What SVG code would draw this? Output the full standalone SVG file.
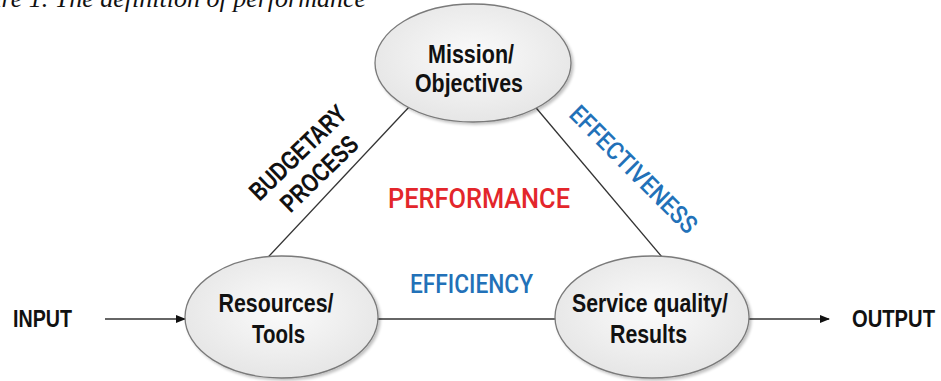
<svg xmlns="http://www.w3.org/2000/svg" width="941" height="381" viewBox="0 0 941 381">
<style>
.node ellipse{fill:url(#g);stroke:#7a7a7a;stroke-width:1.3}
.lbl{font-family:"Liberation Sans",Arial,sans-serif;font-weight:bold;font-size:26px;fill:#111;text-anchor:middle}
.io{font-family:"Liberation Sans",Arial,sans-serif;font-weight:bold;font-size:24px;fill:#111}
.conn line{stroke:#333;stroke-width:1.3}
.blue{font-family:Roboto,"Liberation Sans",sans-serif;font-size:25px;fill:#2271b8;font-weight:500;text-anchor:middle}
.red{font-family:Roboto,"Liberation Sans",sans-serif;font-size:28px;fill:#e3262b;font-weight:500;text-anchor:middle}
.cap{font-family:"Liberation Serif","Times New Roman",serif;font-style:italic;font-size:26px;fill:#111}
</style>
<defs>
<radialGradient id="g" cx="50%" cy="45%" r="60%">
<stop offset="0" stop-color="#fbfbfb"/>
<stop offset="1" stop-color="#e4e4e4"/>
</radialGradient>
<filter id="sh" x="-10%" y="-10%" width="125%" height="125%">
<feGaussianBlur in="SourceAlpha" stdDeviation="1.5"/>
<feOffset dx="1.5" dy="2" result="b"/>
<feComponentTransfer><feFuncA type="linear" slope="0.25"/></feComponentTransfer>
<feMerge><feMergeNode/><feMergeNode in="SourceGraphic"/></feMerge>
</filter>
<marker id="arr" markerWidth="10" markerHeight="8" refX="9" refY="4" orient="auto" markerUnits="userSpaceOnUse">
<path d="M0,0 L10,4 L0,8 Z" fill="#111"/>
</marker>
</defs>
<rect width="941" height="381" fill="#fff"/>
<text class="cap" x="366" y="7" text-anchor="end">Figure 1. The definition of performance</text>
<g id="connectors" class="conn">
<line x1="425" y1="90" x2="256" y2="270"/>
<line x1="521" y1="90" x2="673" y2="270"/>
<line x1="370" y1="319" x2="565" y2="319"/>
<line x1="105" y1="319" x2="185" y2="319" marker-end="url(#arr)"/>
<line x1="749" y1="319" x2="829" y2="319" marker-end="url(#arr)"/>
</g>
<g id="mission" class="node">
<ellipse cx="473" cy="63" rx="98" ry="59" filter="url(#sh)"/>
<text class="lbl" x="471" y="63" textLength="86" lengthAdjust="spacingAndGlyphs">Mission/</text>
<text class="lbl" x="469" y="92" textLength="108" lengthAdjust="spacingAndGlyphs">Objectives</text>
</g>
<g id="resources" class="node">
<ellipse cx="281.5" cy="317" rx="96.5" ry="61" filter="url(#sh)"/>
<text class="lbl" x="276" y="312" textLength="115" lengthAdjust="spacingAndGlyphs">Resources/</text>
<text class="lbl" x="278.5" y="343" textLength="53" lengthAdjust="spacingAndGlyphs">Tools</text>
</g>
<g id="service" class="node">
<ellipse cx="652" cy="317" rx="97" ry="61" filter="url(#sh)"/>
<text class="lbl" x="650" y="312" textLength="156" lengthAdjust="spacingAndGlyphs">Service quality/</text>
<text class="lbl" x="648.5" y="343" textLength="77" lengthAdjust="spacingAndGlyphs">Results</text>
</g>
<g id="input">
<text class="io" x="13" y="327" textLength="59" lengthAdjust="spacingAndGlyphs">INPUT</text>
</g>
<g id="output">
<text class="io" x="852" y="327" textLength="83" lengthAdjust="spacingAndGlyphs">OUTPUT</text>
</g>
<g id="labels">
<text class="lbl" transform="translate(304,159) rotate(-44)" x="0" y="0" font-size="24" textLength="124" lengthAdjust="spacingAndGlyphs">BUDGETARY</text>
<text class="lbl" transform="translate(325.5,180) rotate(-44)" x="0" y="0" font-size="24" textLength="97" lengthAdjust="spacingAndGlyphs">PROCESS</text>
<text class="blue" transform="translate(627.5,175.5) rotate(45)" x="0" y="0" textLength="169" lengthAdjust="spacingAndGlyphs">EFFECTIVENESS</text>
<text class="red" x="479" y="208" textLength="182" lengthAdjust="spacingAndGlyphs">PERFORMANCE</text>
<text class="blue" x="471.5" y="293" textLength="123" lengthAdjust="spacingAndGlyphs">EFFICIENCY</text>
</g>
</svg>
